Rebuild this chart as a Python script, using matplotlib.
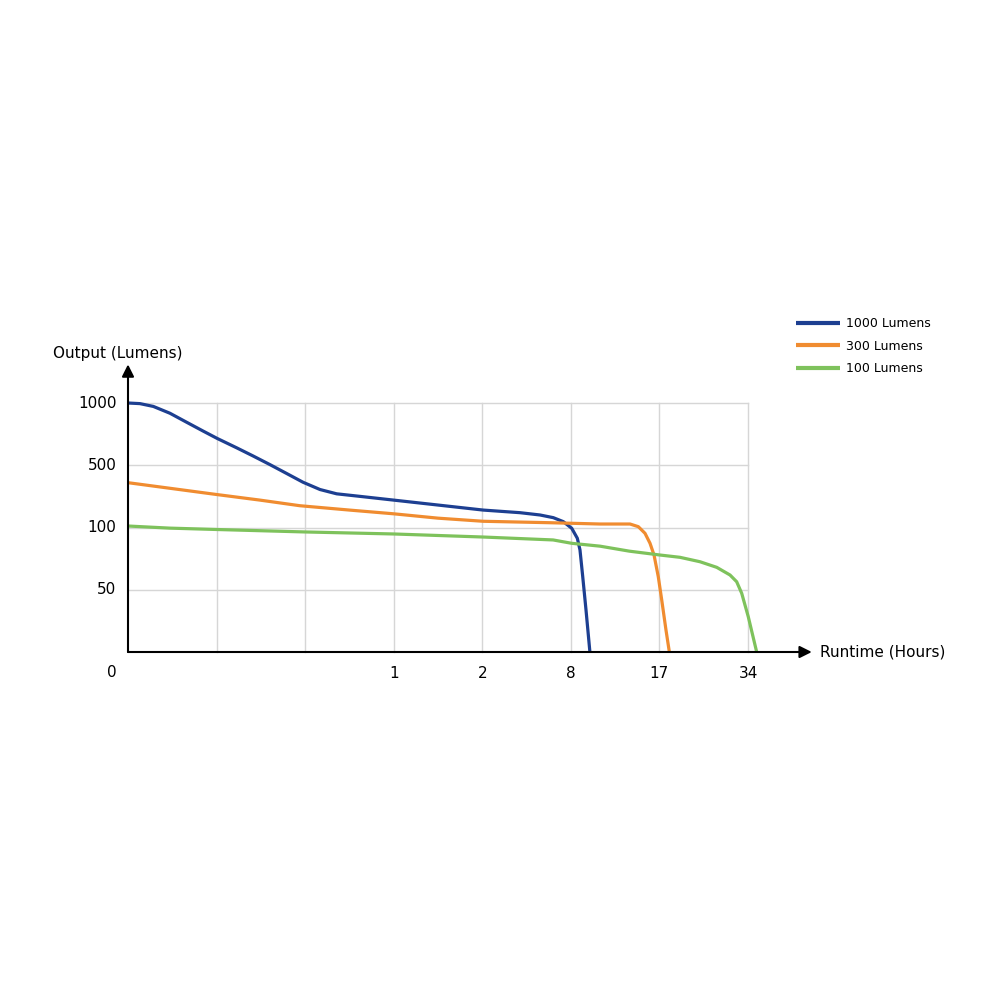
import matplotlib
matplotlib.use("Agg")
import matplotlib.pyplot as plt

# chart is drawn on a grid-unit scale: x = column index (0..7), y = row index (0..4)
x_ticks = [3, 4, 5, 6, 7]
x_labels = ["1", "2", "8", "17", "34"]
y_ticks = [1, 2, 3, 4]
y_labels = ["50", "100", "500", "1000"]

blue_x = [0, 0.135, 0.286, 0.474, 0.663, 0.847, 1.008, 1.227, 1.411, 1.603, 1.792,
          1.976, 2.168, 2.356, 2.62, 3.0, 4.01, 4.426, 4.652, 4.802, 4.915, 5.01,
          5.073, 5.103, 5.134, 5.171, 5.215]
blue_y = [4.0, 3.99, 3.945, 3.835, 3.69, 3.55, 3.43, 3.28, 3.15, 3.01, 2.867,
          2.727, 2.61, 2.541, 2.50, 2.44, 2.28, 2.238, 2.201, 2.158, 2.094, 1.987,
          1.827, 1.64, 1.211, 0.675, 0.0]

orange_x = [0, 1.0, 1.49, 1.94, 2.5, 3.0, 3.5, 4.01, 4.76, 5.329, 5.668, 5.762,
            5.837, 5.894, 5.939, 5.987, 6.026, 6.074, 6.112]
orange_y = [2.72, 2.53, 2.44, 2.35, 2.28, 2.22, 2.15, 2.10, 2.077, 2.056, 2.056, 2.013,
            1.907, 1.746, 1.558, 1.21, 0.835, 0.353, 0.0]

green_x = [0, 0.47, 1.0, 2.01, 3.0, 4.01, 4.80, 5.01, 5.33, 5.66, 6.006, 6.232,
           6.458, 6.647, 6.797, 6.872, 6.929, 7.003, 7.098]
green_y = [2.024, 1.99, 1.968, 1.928, 1.896, 1.847, 1.80, 1.746, 1.70, 1.62, 1.558, 1.521,
           1.45, 1.36, 1.237, 1.129, 0.943, 0.567, 0.0]

series = [
    ("1000 Lumens", blue_x, blue_y, "#1d3f91"),
    ("300 Lumens", orange_x, orange_y, "#f08c30"),
    ("100 Lumens", green_x, green_y, "#7ec25c"),
]

plt.rcParams["font.family"] = ["DejaVu Sans"]

fig = plt.figure(figsize=(10, 10), dpi=100)
ax = fig.add_axes([0.128, 0.348, 0.62, 0.249])
ax.set_xlim(0, 7)
ax.set_ylim(0, 4)

# grid
for gx in range(1, 8):
    ax.plot([gx, gx], [0, 4], color="#d6d6d6", lw=1.0, zorder=1, clip_on=False)
for gy in range(1, 5):
    ax.plot([0, 7], [gy, gy], color="#d6d6d6", lw=1.0, zorder=1, clip_on=False)

lines = []
for name, xs, ys, col in series:
    ln, = ax.plot(xs, ys, color=col, lw=2.3, solid_joinstyle="round",
                  solid_capstyle="butt", label=name, zorder=3, clip_on=False)
    lines.append(ln)

for s in ax.spines.values():
    s.set_visible(False)
ax.set_xticks([])
ax.set_yticks([])

# axis arrows
ax.annotate("", xy=(7.72, 0), xytext=(0, 0),
            arrowprops=dict(arrowstyle="-|>", color="black", lw=1.5,
                            mutation_scale=18, shrinkA=0, shrinkB=0),
            annotation_clip=False, zorder=4)
ax.annotate("", xy=(0, 4.62), xytext=(0, 0),
            arrowprops=dict(arrowstyle="-|>", color="black", lw=1.5,
                            mutation_scale=18, shrinkA=0, shrinkB=0),
            annotation_clip=False, zorder=4)

fs = 11
for t, lab in zip(x_ticks, x_labels):
    ax.text(t, -0.35, lab, ha="center", va="center", fontsize=fs)
for t, lab in zip(y_ticks, y_labels):
    ax.text(-0.13, t, lab, ha="right", va="center", fontsize=fs)
ax.text(-0.18, -0.33, "0", ha="center", va="center", fontsize=fs)

ax.text(-0.85, 4.8, "Output (Lumens)", ha="left", va="center", fontsize=fs)
ax.text(7.81, 0, "Runtime (Hours)", ha="left", va="center", fontsize=fs)

ax.legend(handles=lines, loc="upper left", bbox_to_anchor=(0.796, 0.683),
          bbox_transform=fig.transFigure, frameon=False, fontsize=9,
          handlelength=3.5, handletextpad=0.48, labelspacing=0.78,
          borderaxespad=0, borderpad=0)
for h in ax.get_legend().get_lines():
    h.set_linewidth(3)

fig.savefig("out.png", dpi=100)
